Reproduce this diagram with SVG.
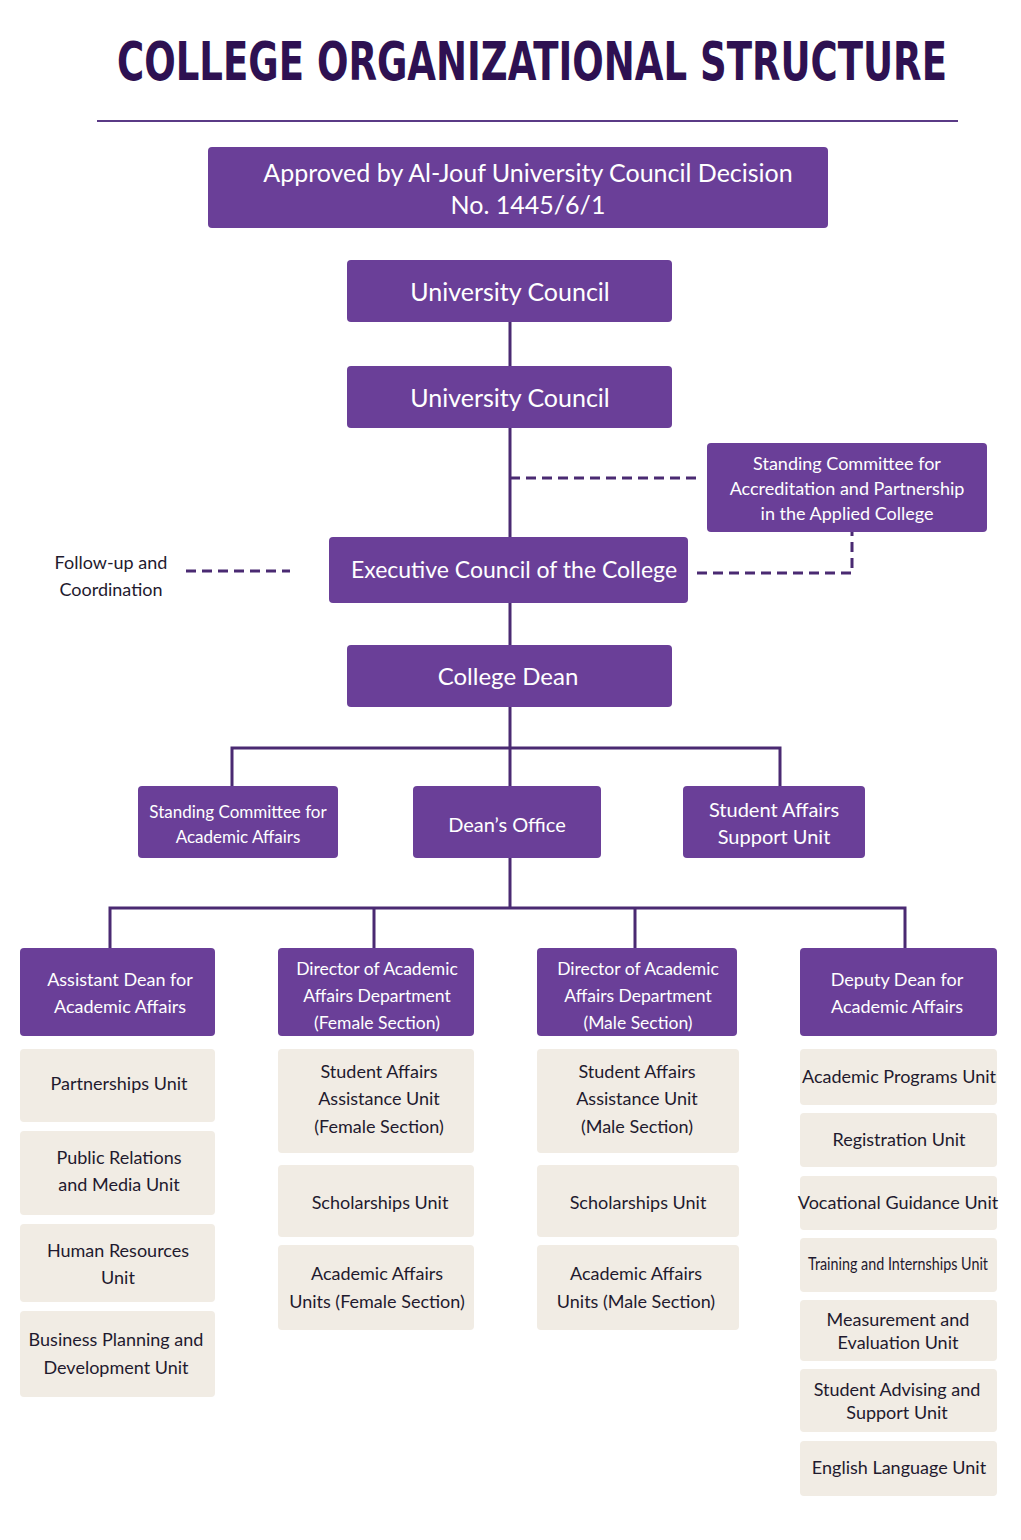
<svg xmlns="http://www.w3.org/2000/svg" width="1021" height="1540" viewBox="0 0 1021 1540">
<style>
.p{fill:#6a3f98}
.b{fill:#f1ece4}
.wt{fill:#fff;font-family:Lato,"Open Sans",sans-serif;text-anchor:middle}
.dt{fill:#1f1a2e;font-family:Lato,"Open Sans",sans-serif;text-anchor:middle;font-size:18px}
.ln{stroke:#4a2a72;stroke-width:3;fill:none}
.ds{stroke:#4a2a72;stroke-width:3;fill:none;stroke-dasharray:10 6}
</style>
<rect width="1021" height="1540" fill="#fff"/>
<text x="532" y="80" font-family="'DejaVu Sans Condensed','DejaVu Sans',sans-serif" font-weight="bold" font-size="54" fill="#2e1152" text-anchor="middle" textLength="830" lengthAdjust="spacingAndGlyphs">COLLEGE ORGANIZATIONAL STRUCTURE</text>
<line x1="97" y1="121" x2="958" y2="121" stroke="#5a3a86" stroke-width="2"/>
<g id="connectors">
<path class="ln" d="M510 322V366M510 428V537M510 603V645M510 707V748M232 786V748H780V786M510 748V786M510 858V908M110 948V908H905V948M374 908V948M635 908V948"/>
<path class="ds" d="M510 478H697M697 573H852V532M186 571H290"/>
</g>
<g id="approved"><rect class="p" x="208" y="147" width="620" height="81" rx="4"/><text class="wt" font-size="25"><tspan x="528" y="182">Approved by Al-Jouf University Council Decision</tspan><tspan x="528" y="214">No. 1445/6/1</tspan></text></g>
<g id="uc1"><rect class="p" x="347" y="260" width="325" height="62" rx="4"/><text class="wt" font-size="25" x="510" y="301">University Council</text></g>
<g id="uc2"><rect class="p" x="347" y="366" width="325" height="62" rx="4"/><text class="wt" font-size="25" x="510" y="407">University Council</text></g>
<g id="sc1"><rect class="p" x="707" y="443" width="280" height="89" rx="4"/><text class="wt" font-size="18"><tspan x="847" y="470">Standing Committee for</tspan><tspan x="847" y="495">Accreditation and Partnership</tspan><tspan x="847" y="520">in the Applied College</tspan></text></g>
<g id="follow"><text class="dt" font-size="19"><tspan x="111" y="569">Follow-up and</tspan><tspan x="111" y="596">Coordination</tspan></text></g>
<g id="exec"><rect class="p" x="329" y="537" width="359" height="66" rx="4"/><text class="wt" font-size="23" x="514" y="578">Executive Council of the College</text></g>
<g id="dean"><rect class="p" x="347" y="645" width="325" height="62" rx="4"/><text class="wt" font-size="24" x="508" y="685">College Dean</text></g>
<g id="scaa"><rect class="p" x="138" y="786" width="200" height="72" rx="4"/><text class="wt" font-size="17"><tspan x="238" y="818">Standing Committee for</tspan><tspan x="238" y="843">Academic Affairs</tspan></text></g>
<g id="do"><rect class="p" x="413" y="786" width="188" height="72" rx="4"/><text class="wt" font-size="20" x="507" y="832">Dean’s Office</text></g>
<g id="sasu"><rect class="p" x="683" y="786" width="182" height="72" rx="4"/><text class="wt" font-size="20"><tspan x="774" y="817">Student Affairs</tspan><tspan x="774" y="844">Support Unit</tspan></text></g>
<g id="h1"><rect class="p" x="20" y="948" width="195" height="88" rx="4"/><text class="wt" font-size="18"><tspan x="120" y="986">Assistant Dean for</tspan><tspan x="120" y="1013">Academic Affairs</tspan></text></g>
<g id="h2"><rect class="p" x="278" y="948" width="196" height="88" rx="4"/><text class="wt" font-size="17.5"><tspan x="377" y="975">Director of Academic</tspan><tspan x="377" y="1002">Affairs Department</tspan><tspan x="377" y="1029">(Female Section)</tspan></text></g>
<g id="h3"><rect class="p" x="537" y="948" width="200" height="88" rx="4"/><text class="wt" font-size="17.5"><tspan x="638" y="975">Director of Academic</tspan><tspan x="638" y="1002">Affairs Department</tspan><tspan x="638" y="1029">(Male Section)</tspan></text></g>
<g id="h4"><rect class="p" x="800" y="948" width="197" height="88" rx="4"/><text class="wt" font-size="18"><tspan x="897" y="986">Deputy Dean for</tspan><tspan x="897" y="1013">Academic Affairs</tspan></text></g>
<g id="c1a"><rect class="b" x="20" y="1049" width="195" height="73" rx="4"/><text class="dt"><tspan x="119" y="1090">Partnerships Unit</tspan></text></g>
<g id="c1b"><rect class="b" x="20" y="1131" width="195" height="84" rx="4"/><text class="dt"><tspan x="119" y="1164">Public Relations</tspan><tspan x="119" y="1191">and Media Unit</tspan></text></g>
<g id="c1c"><rect class="b" x="20" y="1224" width="195" height="78" rx="4"/><text class="dt"><tspan x="118" y="1257">Human Resources</tspan><tspan x="118" y="1284">Unit</tspan></text></g>
<g id="c1d"><rect class="b" x="20" y="1311" width="195" height="86" rx="4"/><text class="dt" font-size="17.5"><tspan x="116" y="1346">Business Planning and</tspan><tspan x="116" y="1374">Development Unit</tspan></text></g>
<g id="c2a"><rect class="b" x="278" y="1049" width="196" height="104" rx="4"/><text class="dt"><tspan x="379" y="1078">Student Affairs</tspan><tspan x="379" y="1105">Assistance Unit</tspan><tspan x="379" y="1133">(Female Section)</tspan></text></g>
<g id="c2b"><rect class="b" x="278" y="1165" width="196" height="72" rx="4"/><text class="dt" x="380" y="1209">Scholarships Unit</text></g>
<g id="c2c"><rect class="b" x="278" y="1245" width="196" height="85" rx="4"/><text class="dt" font-size="17.5"><tspan x="377" y="1280">Academic Affairs</tspan><tspan x="377" y="1308">Units (Female Section)</tspan></text></g>
<g id="c3a"><rect class="b" x="537" y="1049" width="202" height="104" rx="4"/><text class="dt"><tspan x="637" y="1078">Student Affairs</tspan><tspan x="637" y="1105">Assistance Unit</tspan><tspan x="637" y="1133">(Male Section)</tspan></text></g>
<g id="c3b"><rect class="b" x="537" y="1165" width="202" height="72" rx="4"/><text class="dt" x="638" y="1209">Scholarships Unit</text></g>
<g id="c3c"><rect class="b" x="537" y="1245" width="202" height="85" rx="4"/><text class="dt"><tspan x="636" y="1280">Academic Affairs</tspan><tspan x="636" y="1308">Units (Male Section)</tspan></text></g>
<g id="c4a"><rect class="b" x="800" y="1049" width="197" height="56" rx="4"/><text class="dt" font-size="16" x="899" y="1083">Academic Programs Unit</text></g>
<g id="c4b"><rect class="b" x="800" y="1113" width="197" height="54" rx="4"/><text class="dt" font-size="16.5" x="899" y="1146">Registration Unit</text></g>
<g id="c4c"><rect class="b" x="800" y="1176" width="197" height="54" rx="4"/><text class="dt" font-size="15.5" x="898" y="1209">Vocational Guidance Unit</text></g>
<g id="c4d"><rect class="b" x="800" y="1238" width="197" height="54" rx="4"/><text class="dt" font-size="15.5" x="898" y="1270" textLength="180" lengthAdjust="spacingAndGlyphs">Training and Internships Unit</text></g>
<g id="c4e"><rect class="b" x="800" y="1300" width="197" height="61" rx="4"/><text class="dt" font-size="16.5"><tspan x="898" y="1326">Measurement and</tspan><tspan x="898" y="1349">Evaluation Unit</tspan></text></g>
<g id="c4f"><rect class="b" x="800" y="1369" width="197" height="63" rx="4"/><text class="dt" font-size="16.5"><tspan x="897" y="1396">Student Advising and</tspan><tspan x="897" y="1419">Support Unit</tspan></text></g>
<g id="c4g"><rect class="b" x="800" y="1441" width="197" height="55" rx="4"/><text class="dt" font-size="16.5" x="899" y="1474">English Language Unit</text></g>
</svg>
